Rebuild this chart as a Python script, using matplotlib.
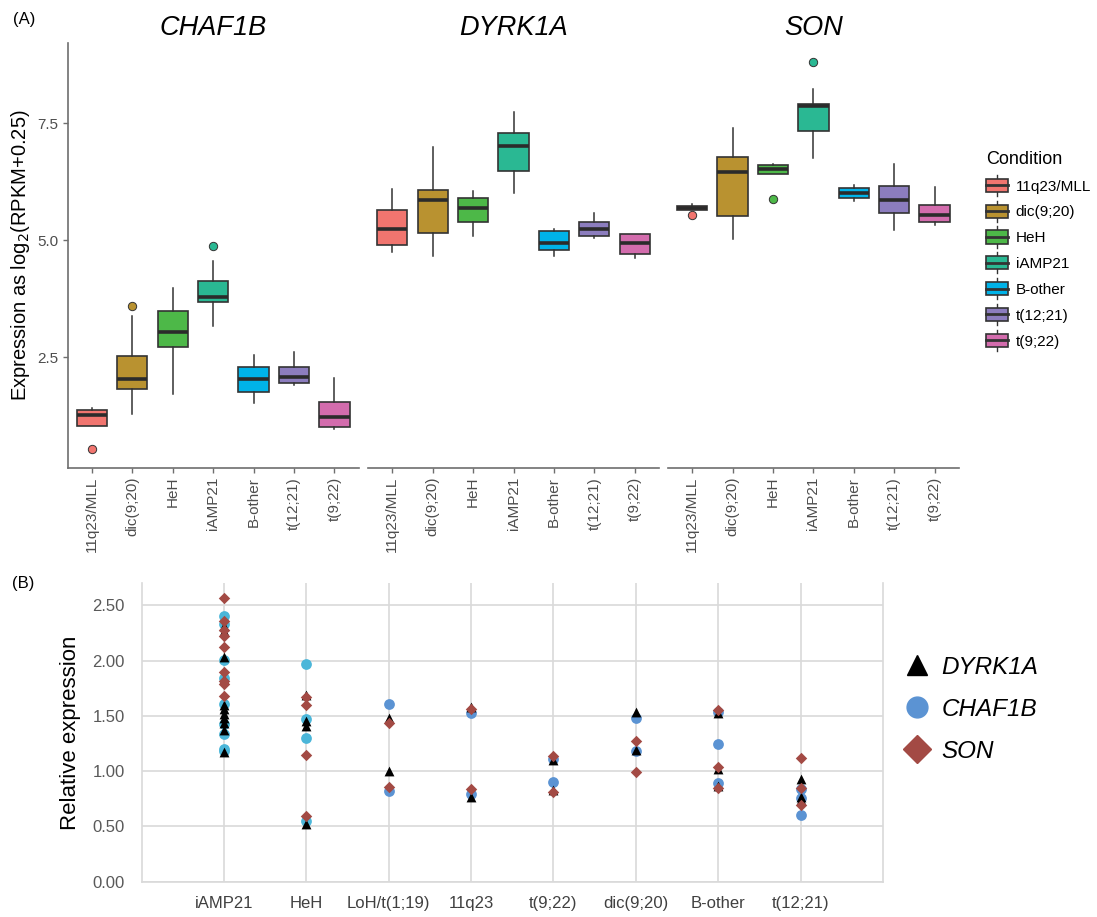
import numpy as np
import matplotlib
matplotlib.use('Agg')
import matplotlib.pyplot as plt
from matplotlib.lines import Line2D
from matplotlib.patches import Rectangle, Patch
from matplotlib.legend_handler import HandlerBase

plt.rcParams['font.family'] = ['Liberation Sans', 'DejaVu Sans']

# ---- panel A data: box statistics ----
conditions = ['11q23/MLL', 'dic(9;20)', 'HeH', 'iAMP21', 'B-other', 't(12;21)', 't(9;22)']
condition_colors = ['#F1756F', '#B99230', '#4DB848', '#2AB893', '#00B3E9', '#8C7DBE', '#D36CAD']
genes_a = ['CHAF1B', 'DYRK1A', 'SON']

# rows: whisker low, q1, median, q3, whisker high
chaf1b_box = [
    [1.03, 1.03, 1.26, 1.36, 1.41],
    [1.29, 1.81, 2.04, 2.52, 3.37],
    [1.71, 2.71, 3.03, 3.49, 3.97],
    [3.16, 3.68, 3.78, 4.12, 4.56],
    [1.51, 1.75, 2.03, 2.29, 2.54],
    [1.90, 1.94, 2.07, 2.29, 2.61],
    [0.96, 1.01, 1.22, 1.54, 2.06],
]
chaf1b_out = [[0.53], [3.59], [], [4.87], [], [], []]

dyrk1a_box = [
    [4.74, 4.90, 5.24, 5.65, 6.09],
    [4.67, 5.16, 5.86, 6.07, 6.99],
    [5.08, 5.39, 5.68, 5.91, 6.06],
    [6.01, 6.49, 7.02, 7.29, 7.74],
    [4.66, 4.80, 4.95, 5.19, 5.25],
    [5.04, 5.08, 5.23, 5.39, 5.58],
    [4.62, 4.71, 4.93, 5.13, 5.13],
]
dyrk1a_out = [[], [], [], [], [], [], []]

son_box = [
    [5.65, 5.65, 5.69, 5.73, 5.78],
    [5.03, 5.52, 6.46, 6.77, 7.41],
    [6.42, 6.42, 6.52, 6.61, 6.64],
    [6.75, 7.33, 7.86, 7.91, 8.23],
    [5.84, 5.91, 6.00, 6.11, 6.19],
    [5.22, 5.59, 5.87, 6.16, 6.62],
    [5.32, 5.39, 5.53, 5.76, 6.13],
]
son_out = [[5.54], [], [5.88], [8.82], [], [], []]

# ---- panel B data: relative expression per subtype ----
categories_b = ['iAMP21', 'HeH', 'LoH/t(1;19)', '11q23', 't(9;22)', 'dic(9;20)', 'B-other', 't(12;21)']
dyrk1a_rel = [
    [2.31, 2.27, 2.03, 1.83, 1.60, 1.56, 1.52, 1.48, 1.44, 1.37, 1.17],
    [1.69, 1.45, 1.41, 0.52],
    [1.48, 1.00],
    [1.58, 0.77],
    [1.10, 0.83],
    [1.54, 1.19],
    [1.53, 1.02, 0.87],
    [0.93, 0.77, 0.74],
]
chaf1b_rel = [
    [2.40, 2.33, 2.01, 1.84, 1.61, 1.43, 1.34, 1.20, 1.18],
    [1.97, 1.47, 1.30, 0.55],
    [1.61, 0.82],
    [1.53, 0.79],
    [1.11, 0.90],
    [1.48, 1.18],
    [1.54, 1.25, 0.89],
    [0.84, 0.76, 0.60],
]
son_rel = [
    [2.57, 2.36, 2.28, 2.22, 2.12, 1.90, 1.82, 1.79, 1.68],
    [1.67, 1.60, 1.15, 0.59],
    [1.44, 0.86],
    [1.56, 0.84],
    [1.14, 0.81],
    [1.27, 0.99],
    [1.55, 1.04, 0.85],
    [1.12, 0.85, 0.69],
]
chaf1b_dot_colors = ['#4BB6D9', '#4BB6D9', '#5B93D3', '#5B93D3',
                     '#5B93D3', '#5B93D3', '#5B93D3', '#5B93D3']


class BoxKeyHandler(HandlerBase):
    # legend key that looks like a small boxplot
    def create_artists(self, legend, orig_handle, xdescent, ydescent,
                       width, height, fontsize, trans):
        x0, y0 = -xdescent, -ydescent
        cx = x0 + width / 2
        whisker = Line2D([cx, cx], [y0 - 0.3 * height, y0 + 1.3 * height],
                         color='#333333', lw=1, transform=trans)
        box = Rectangle((x0, y0), width, height, facecolor=orig_handle.get_facecolor(),
                        edgecolor='#333333', lw=1.2, transform=trans)
        med = Line2D([x0, x0 + width], [y0 + height / 2] * 2,
                     color='#333333', lw=2, transform=trans)
        return [whisker, box, med]


fig = plt.figure(figsize=(10.97, 9.17), dpi=100)

# ---- panel A ----
axis_grey = '#6E6E6E'
panel_w = 0.2652
lefts = [0.0617, 0.3355, 0.6089]
box_sets = [chaf1b_box, dyrk1a_box, son_box]
out_sets = [chaf1b_out, dyrk1a_out, son_out]
positions = np.arange(1, len(conditions) + 1)

for k, gene in enumerate(genes_a):
    ax = fig.add_axes([lefts[k], 0.4898, panel_w, 0.4634])
    stats = []
    for row, outs in zip(box_sets[k], out_sets[k]):
        stats.append(dict(whislo=row[0], q1=row[1], med=row[2], q3=row[3],
                          whishi=row[4], fliers=outs))
    bp = ax.bxp(stats, positions=positions, widths=0.75, patch_artist=True,
                showcaps=False,
                boxprops=dict(edgecolor='#333333', linewidth=1.2),
                medianprops=dict(color='#2B2B2B', linewidth=2.6),
                whiskerprops=dict(color='#333333', linewidth=1.1),
                flierprops=dict(marker='o', markersize=6, markeredgecolor='#333333',
                                markeredgewidth=0.7))
    for patch, col in zip(bp['boxes'], condition_colors):
        patch.set_facecolor(col)
    for fl, col in zip(bp['fliers'], condition_colors):
        fl.set_markerfacecolor(col)

    ax.set_xlim(0.4, 7.6)
    ax.set_ylim(0.13, 9.22)
    ax.set_xticks(positions)
    ax.set_xticklabels(conditions, rotation=90, fontsize=11, color='#4D4D4D')
    ax.tick_params(axis='x', length=3.5, width=1, color=axis_grey, pad=3)
    for side in ['top', 'right']:
        ax.spines[side].set_visible(False)
    ax.spines['bottom'].set_color(axis_grey)
    ax.spines['bottom'].set_linewidth(1.2)
    if k == 0:
        ax.set_yticks([2.5, 5.0, 7.5])
        ax.set_yticklabels(['2.5', '5.0', '7.5'], fontsize=11, color='#4D4D4D')
        ax.tick_params(axis='y', length=3.5, width=1, color=axis_grey, pad=3)
        ax.spines['left'].set_color(axis_grey)
        ax.spines['left'].set_linewidth(1.2)
        ax.set_ylabel('Expression as log$_2$(RPKM+0.25)', fontsize=14.5, labelpad=4)
    else:
        ax.spines['left'].set_visible(False)
        ax.set_yticks([])
    ax.set_title(gene, fontsize=19.5, style='italic', pad=6)

legend_handles = [Patch(facecolor=c) for c in condition_colors]
fig.legend(legend_handles, conditions, loc='upper left',
           bbox_to_anchor=(0.896, 0.839), frameon=False, title='Condition',
           title_fontsize=13, fontsize=11, alignment='left',
           handler_map={Patch: BoxKeyHandler()},
           handlelength=1.45, handleheight=0.95, labelspacing=0.72,
           handletextpad=0.5, borderpad=0.2, borderaxespad=0)

fig.text(0.022, 0.979, '(A)', fontsize=12, va='center', ha='center')
fig.text(0.021, 0.364, '(B)', fontsize=12, va='center', ha='center')

# ---- panel B ----
grid_grey = '#D9D9D9'
axb = fig.add_axes([0.129, 0.0385, 0.676, 0.3254])
xb = np.arange(len(categories_b))
for i in xb:
    axb.scatter(np.full(len(chaf1b_rel[i]), i), chaf1b_rel[i], s=60,
                color=chaf1b_dot_colors[i], marker='o', zorder=3, linewidths=0)
for i in xb:
    axb.scatter(np.full(len(dyrk1a_rel[i]), i), dyrk1a_rel[i], s=50,
                color='black', marker='^', zorder=4, linewidths=0)
for i in xb:
    axb.scatter(np.full(len(son_rel[i]), i), son_rel[i], s=34,
                color='#A34A44', marker='D', zorder=5, linewidths=0)

axb.set_xlim(-1, 8)
axb.set_ylim(0, 2.7)
axb.set_xticks(xb)
axb.set_xticklabels(categories_b, fontsize=12, color='#404040')
axb.set_yticks([0, 0.5, 1.0, 1.5, 2.0, 2.5])
axb.set_yticklabels(['0.00', '0.50', '1.00', '1.50', '2.00', '2.50'],
                    fontsize=12, color='#595959')
axb.tick_params(axis='both', length=0)
axb.tick_params(axis='x', pad=10)
axb.tick_params(axis='y', pad=12)
axb.grid(True, color=grid_grey, linewidth=1.2, zorder=0)
axb.set_axisbelow(True)
axb.spines['top'].set_visible(False)
for side in ['left', 'right', 'bottom']:
    axb.spines[side].set_color(grid_grey)
    axb.spines[side].set_linewidth(1.2)
axb.set_ylabel('Relative expression', fontsize=16, labelpad=8)

gene_handles = [
    Line2D([], [], marker='^', color='black', linestyle='None', markersize=15),
    Line2D([], [], marker='o', color='#5B93D3', linestyle='None', markersize=15),
    Line2D([], [], marker='D', color='#A34A44', linestyle='None', markersize=14),
]
fig.legend(gene_handles, ['DYRK1A', 'CHAF1B', 'SON'], loc='upper left',
           bbox_to_anchor=(0.823, 0.285), frameon=False,
           prop=dict(size=17.5, style='italic'), handlelength=1.2,
           handletextpad=0.4, labelspacing=0.78, borderpad=0, borderaxespad=0)

fig.savefig('out.png', dpi=100)
